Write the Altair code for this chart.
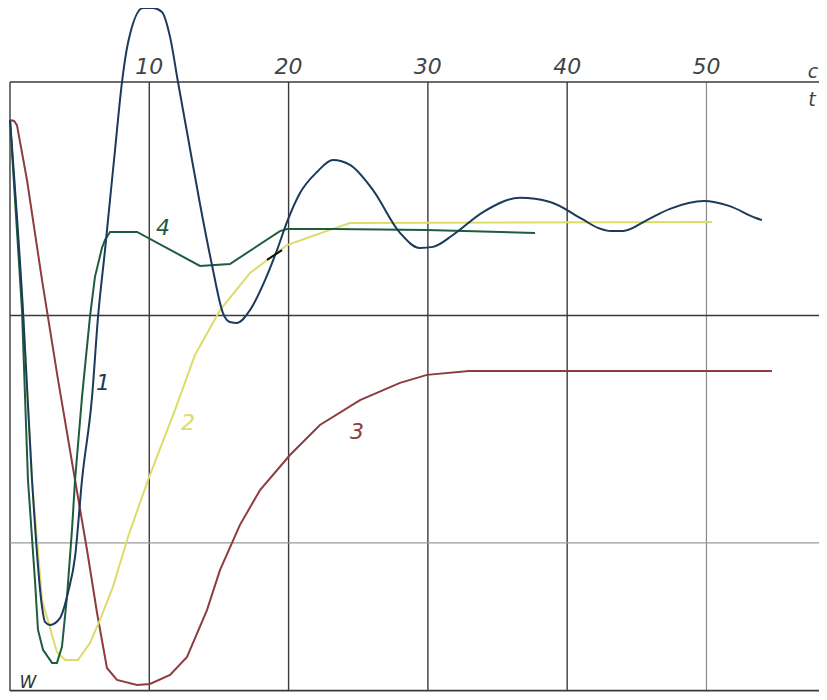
import altair as alt
import pandas as pd

# ---- data (t in s, W in relative units) ----
c1_t = [0, 0.93, 1.58, 2.30, 2.51, 2.87, 3.59, 4.16, 4.67, 5.17, 5.89, 6.32, 6.82, 7.18, 7.54, 8.04, 8.47,
        9.55, 10.27, 10.91, 11.49, 12.06, 12.78, 13.64, 14.50, 15.29, 15.79, 16.30, 17.23, 18.31, 19.17,
        19.89, 20.82, 22.04, 23.19, 24.41, 26.06, 28.00, 29.43, 30.37, 31.80, 33.96, 36.61, 38.77, 41.06,
        42.21, 43.14, 44.01, 45.73, 47.38, 49.82, 51.62, 53.55, 53.98]
c1_w = [1.847, 1.017, 0.275, -0.279, -0.345, -0.358, -0.328, -0.218, -0.061, 0.275, 0.638, 0.987, 1.279,
        1.498, 1.716, 2.013, 2.183, 2.336, 2.336, 2.319, 2.210, 2.013, 1.770, 1.480, 1.214, 1.004, 0.965,
        0.961, 1.017, 1.148, 1.279, 1.402, 1.528, 1.620, 1.672, 1.651, 1.541, 1.354, 1.288, 1.293, 1.345,
        1.445, 1.507, 1.489, 1.415, 1.376, 1.362, 1.362, 1.410, 1.459, 1.493, 1.472, 1.419, 1.410]

c2_t = [0, 0.93, 1.58, 2.30, 3.37, 3.95, 4.88, 5.74, 6.46, 7.39, 8.47, 9.91, 11.85, 13.28, 15.08, 17.23,
        19.89, 21.32, 22.97, 24.41, 50.39]
c2_w = [1.847, 1.017, 0.275, -0.249, -0.476, -0.511, -0.511, -0.437, -0.336, -0.192, 0.026, 0.275, 0.581,
        0.821, 1.017, 1.179, 1.301, 1.332, 1.367, 1.397, 1.402]

c3_t = [0, 0.29, 0.50, 1.22, 2.30, 3.45, 4.67, 5.53, 6.25, 6.96, 7.68, 9.12, 10.05, 11.49, 12.71, 14.14,
        15.08, 16.51, 17.95, 20.10, 22.25, 25.13, 28.00, 29.94, 32.95, 54.70]
c3_w = [1.847, 1.843, 1.825, 1.585, 1.148, 0.712, 0.275, -0.031, -0.306, -0.546, -0.598, -0.620, -0.616,
        -0.576, -0.498, -0.293, -0.118, 0.079, 0.231, 0.384, 0.515, 0.624, 0.699, 0.734, 0.751, 0.751]

c4_t = [0, 0.86, 1.29, 1.79, 2.01, 2.37, 3.02, 3.37, 3.73, 4.09, 4.45, 4.67, 5.17, 5.74, 6.10, 6.60,
        6.82, 7.18, 9.12, 13.64, 15.79, 19.38, 19.89, 23.19, 29.94, 37.69]
c4_w = [1.847, 1.017, 0.275, -0.162, -0.380, -0.467, -0.524, -0.524, -0.454, -0.236, 0.057, 0.275, 0.638,
        0.987, 1.162, 1.288, 1.323, 1.358, 1.358, 1.210, 1.218, 1.362, 1.371, 1.371, 1.367, 1.354]

stroke_t = [18.45, 19.53]
stroke_w = [1.236, 1.279]

curve_names = ["1", "2", "3", "4"]
curve_colors = ["#1b3a5c", "#dcdc6a", "#8e3c40", "#1e5c3e"]
label_t = [6.68, 12.78, 24.91, 10.98]
label_w = [0.699, 0.524, 0.485, 1.376]

tick_t = [10, 20, 30, 40, 50]
tick_labels = ["10", "20", "30", "40", "50"]
vgrid_dark = [0, 10, 20, 30, 40]
vgrid_light = [50]
hgrid_dark = [2.013, 0.993, -0.645]
hgrid_light = [0.0]

T_MAX = 58.08
W_MIN, W_MAX = -0.651, 2.3362

xs = alt.Scale(domain=[0, T_MAX], nice=False, zero=False)
ys = alt.Scale(domain=[W_MIN, W_MAX], nice=False, zero=False)
X = alt.X("t:Q", scale=xs, axis=None)
Y = alt.Y("w:Q", scale=ys, axis=None)

def vrules(ts):
    return pd.DataFrame({"t": ts, "w": [hgrid_dark[-1]] * len(ts), "w2": [hgrid_dark[0]] * len(ts)})

def hrules(ws):
    return pd.DataFrame({"w": ws, "t": [0] * len(ws), "t2": [T_MAX] * len(ws)})

vd = alt.Chart(vrules(vgrid_dark)).mark_rule(color="#3a3a3a", strokeWidth=1.4).encode(x=X, y=Y, y2="w2:Q")
vl = alt.Chart(vrules(vgrid_light)).mark_rule(color="#8a8a8a", strokeWidth=1.2).encode(x=X, y=Y, y2="w2:Q")
hd = alt.Chart(hrules(hgrid_dark)).mark_rule(color="#3a3a3a", strokeWidth=1.6).encode(y=Y, x=X, x2="t2:Q")
hl = alt.Chart(hrules(hgrid_light)).mark_rule(color="#9a9a9a", strokeWidth=1.2).encode(y=Y, x=X, x2="t2:Q")

def curve(ts, ws, color, interp="linear"):
    df = pd.DataFrame({"t": ts, "w": ws})
    return alt.Chart(df).mark_line(color=color, strokeWidth=2, interpolate=interp).encode(x=X, y=Y)

l1 = curve(c1_t, c1_w, curve_colors[0], "monotone")
l2 = curve(c2_t, c2_w, curve_colors[1])
l3 = curve(c3_t, c3_w, curve_colors[2])
l4 = curve(c4_t, c4_w, curve_colors[3])
ls = curve(stroke_t, stroke_w, "#111111")

lab_df = pd.DataFrame({"t": label_t, "w": label_w, "name": curve_names, "col": curve_colors})
labels = alt.Chart(lab_df).mark_text(font="DejaVu Sans", fontStyle="italic", fontSize=22).encode(
    x=X, y=Y, text="name:N", color=alt.Color("col:N", scale=None))

tick_df = pd.DataFrame({"t": tick_t, "w": [2.079] * len(tick_t), "lab": tick_labels})
ticks = alt.Chart(tick_df).mark_text(font="DejaVu Sans", fontStyle="italic", fontSize=22,
                                     color="#444444").encode(x=X, y=Y, text="lab:N")

misc_df = pd.DataFrame({"t": [57.65, 57.57], "w": [2.057, 1.934], "lab": ["c", "t"]})
misc = alt.Chart(misc_df).mark_text(font="DejaVu Sans", fontStyle="italic", fontSize=19,
                                    color="#444444").encode(x=X, y=Y, text="lab:N")
w_df = pd.DataFrame({"t": [1.29], "w": [-0.612], "lab": ["W"]})
wlab = alt.Chart(w_df).mark_text(font="DejaVu Sans", fontStyle="italic", fontSize=17,
                                 color="#333333").encode(x=X, y=Y, text="lab:N")

chart = alt.layer(vd, vl, hd, hl, l3, l2, l4, l1, ls, labels, ticks, misc, wlab).properties(
    width=809, height=684,
    autosize=alt.AutoSizeParams(type="none"),
    padding={"left": 2, "top": 0, "right": 0, "bottom": 0},
    background="white",
).configure_view(strokeWidth=0)

chart.save("out.html", embed_options={"renderer": "svg", "actions": False})
